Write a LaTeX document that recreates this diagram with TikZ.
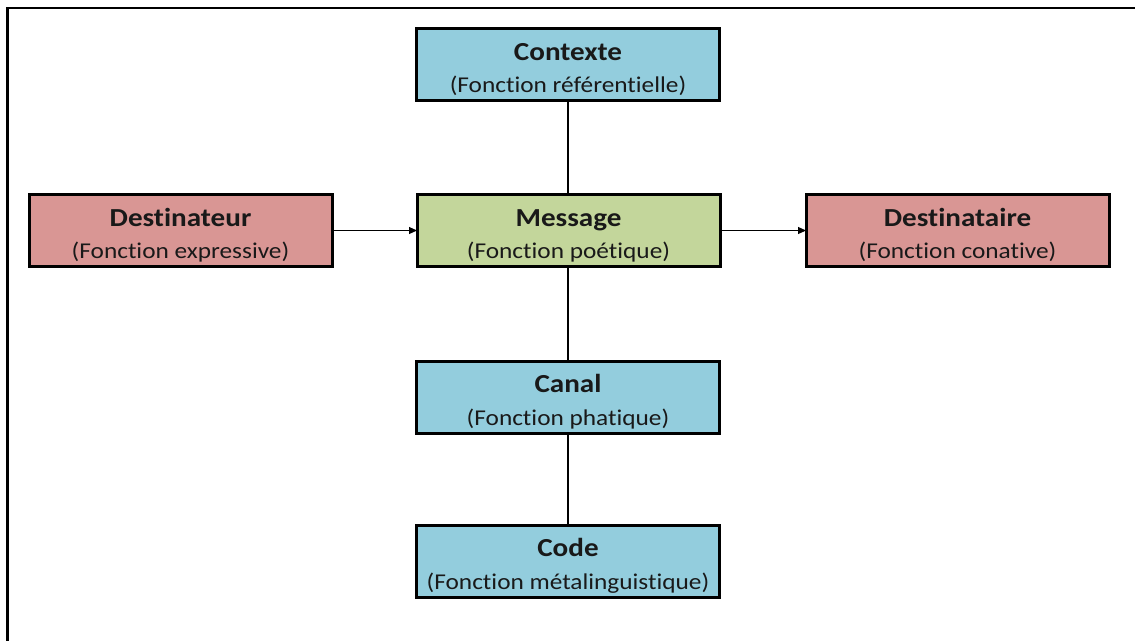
\documentclass[tikz,border=0pt]{standalone}
\usepackage{fontspec}
\setmainfont{Carlito}[FakeStretch=1.12, Ligatures=NoCommon]
\usetikzlibrary{arrows.meta}

\definecolor{boxblue}{RGB}{147,205,221}
\definecolor{boxpink}{RGB}{217,150,148}
\definecolor{boxgreen}{RGB}{195,214,155}
\definecolor{inkdark}{RGB}{25,25,25}

\tikzset{
  fnbox/.style={draw=black, line width=3pt, minimum width=303pt, minimum height=72pt,
                inner sep=0pt, outer sep=0pt},
  bluebox/.style={fnbox, fill=boxblue},
  pinkbox/.style={fnbox, fill=boxpink},
  greenbox/.style={fnbox, fill=boxgreen},
  titletext/.style={anchor=base, inner sep=0pt, text=inkdark,
                    font=\fontsize{26}{30}\selectfont\bfseries},
  subtext/.style={anchor=base, inner sep=0pt, text=inkdark,
                  font=\fontsize{22.6}{26}\selectfont},
  link/.style={draw=black, line width=1.1pt},
  flow/.style={link, -{Triangle[length=8pt,width=7pt]}},
  frameline/.style={draw=black, line width=2.6pt}
}

% box with a bold title and a subtitle in brackets
\newcommand{\fnnode}[5]{%
  \node[#1] (#2) at (#3) {};
  \node[titletext] (#2-t) at ([yshift=-31.5pt]#2.north) {#4};
  \node[subtext] (#2-s) at ([yshift=-64pt]#2.north) {#5};
}

\begin{document}
\begin{tikzpicture}[x=1pt,y=1pt]
  \useasboundingbox (0,0) rectangle (1135,-641);

  % open frame: top and left edges only
  \coordinate (frameTR) at (1135,-8);
  \coordinate (frameTL) at (7.5,-8);
  \coordinate (frameBL) at (7.5,-641);
  \draw[frameline] (frameTR) -- (frameTL) -- (frameBL);

  \fnnode{bluebox}{ctx}{568,-64.5}{Contexte}{(Fonction référentielle)}
  \fnnode{pinkbox}{src}{180.5,-230.5}{Destinateur}{(Fonction expressive)}
  \fnnode{greenbox}{msg}{568.5,-230.5}{Message}{(Fonction poétique)}
  \fnnode{pinkbox}{dst}{957.5,-230.5}{Destinataire}{(Fonction conative)}
  \fnnode{bluebox}{can}{568,-397}{Canal}{(Fonction phatique)}
  \fnnode{bluebox}{cod}{568,-561}{Code}{(Fonction métalinguistique)}

  \draw[flow] (src.east) -- (msg.west);
  \draw[flow] (msg.east) -- (dst.west);
  \draw[link] (ctx.south) -- (ctx.south |- msg.north);
  \draw[link] (msg.south -| can.north) -- (can.north);
  \draw[link] (can.south) -- (cod.north);
\end{tikzpicture}
\end{document}
